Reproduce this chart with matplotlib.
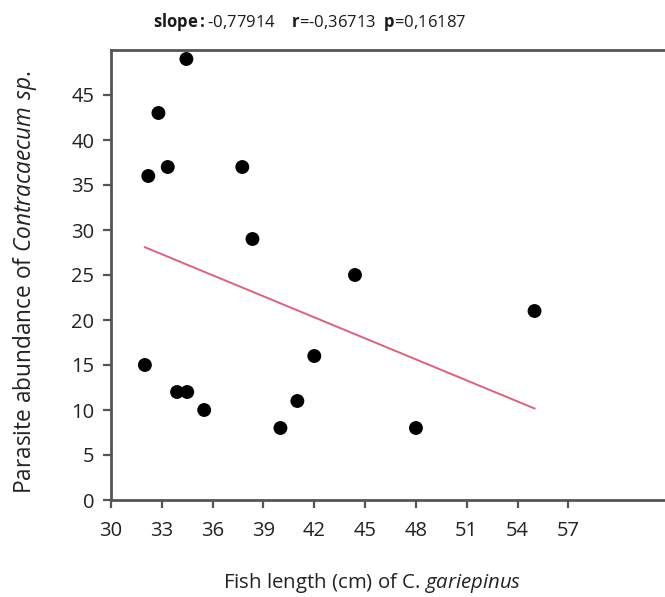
import matplotlib
matplotlib.use("Agg")
import matplotlib.pyplot as plt
import numpy as np

length_cm = [32.2, 32.8, 33.35, 34.45, 37.75, 38.35, 44.4, 55.0, 32.0, 42.0, 33.9, 34.5, 41.0, 35.5, 40.0, 48.0]
abundance = [36, 43, 37, 49, 37, 29, 25, 21, 15, 16, 12, 12, 11, 10, 8, 8]
x_ticks = [30, 33, 36, 39, 42, 45, 48, 51, 54, 57]
y_ticks = [0, 5, 10, 15, 20, 25, 30, 35, 40, 45]
reported_slope = -0.77914
reported_r = -0.36713
reported_p = 0.16187

plt.rcParams['mathtext.fontset'] = 'custom'
plt.rcParams['mathtext.rm'] = 'Open Sans'
plt.rcParams['mathtext.it'] = 'Open Sans:italic'
plt.rcParams['mathtext.bf'] = 'Open Sans:bold'
plt.rcParams['font.family'] = ['Open Sans', 'DejaVu Sans']

fig = plt.figure(figsize=(6.65, 5.97), dpi=100)
ax = fig.add_axes([111/665, 1 - 500/597, 1 - 111/665, 450/597])

ax.scatter(length_cm, abundance, s=100, color='black', zorder=3, edgecolors='none')

mx, my = np.mean(length_cm), np.mean(abundance)
intercept = my - reported_slope * mx
xs = np.array([min(length_cm), max(length_cm)])
ax.plot(xs, reported_slope * xs + intercept, color='#e0607a', lw=1.4, zorder=2)

ax.set_xlim(30, 62.7)
ax.set_ylim(0, 50)
ax.set_xticks(x_ticks)
ax.set_yticks(y_ticks)
ax.tick_params(direction='out', length=6, width=1.6, color='#555555',
               labelsize=14.5, labelcolor='#222222')
ax.tick_params(axis='y', pad=6)
ax.tick_params(axis='x', pad=9)
for side in ['left', 'bottom', 'top']:
    ax.spines[side].set_color('#555555')
    ax.spines[side].set_linewidth(2)
ax.spines['right'].set_visible(False)

def fmt(v):
    return f"{v:.5f}".replace('.', ',')

title = (r"$\mathbf{slope:}$" + fmt(reported_slope) + "    "
         + r"$\mathbf{r}$=" + fmt(reported_r) + "  "
         + r"$\mathbf{p}$=" + fmt(reported_p))
fig.text(310/665, 1 - 22/597, title,
         ha='center', va='center', fontsize=12, color='#1a1a1a')
fig.text(372/665, 1 - 583/597, r"Fish length (cm) of C. $\mathit{gariepinus}$",
         ha='center', va='center', fontsize=14.7, color='#222222')
fig.text(25/665, 1 - 282/597, r"Parasite abundance of $\mathit{Contracaecum\ sp.}$",
         ha='center', va='center', rotation=90, fontsize=16.3, color='#222222')

fig.savefig('out.png', dpi=100)
